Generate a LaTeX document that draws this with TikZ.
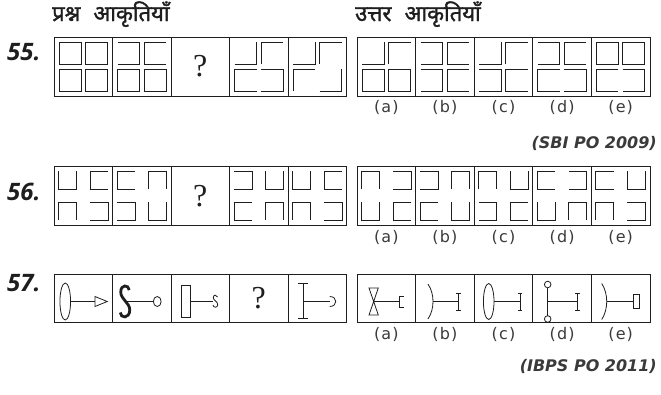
\documentclass[tikz,border=0pt]{standalone}
\usepackage{fontspec}
\usepackage{tikz}
\usetikzlibrary{positioning}
\newfontfamily\hindifont[Script=Devanagari, FakeBold=1.6]{Noto Sans}
\newfontfamily\numfont{Open Sans}
\newfontfamily\srcfont{DejaVu Sans}
\newfontfamily\labfont[LetterSpace=7]{DejaVu Sans}
\newfontfamily\qfont{Liberation Serif}
\definecolor{ink}{HTML}{1E1E1E}
\definecolor{note}{HTML}{3A3A3A}
\newcommand{\tiles}[5]{%
  \pic at ([shift={(-\tdx,-\tdy)}]#1.center) {#2};
  \pic at ([shift={(\tdx,-\tdy)}]#1.center) {#3};
  \pic at ([shift={(-\tdx,\tdy)}]#1.center) {#4};
  \pic at ([shift={(\tdx,\tdy)}]#1.center) {#5};}

\begin{document}
\begin{tikzpicture}[x=1pt, y=-1pt,
  cell/.style={draw=ink, line width=1pt, minimum width=58.5pt, inner sep=0pt, outer sep=0pt},
  acell/.style={cell, minimum width=58.6pt},
  c55/.style={minimum height=59pt},
  c56/.style={minimum height=58.5pt},
  c57/.style={minimum height=48pt},
  tile/.style={draw=ink, line width=1pt},
  sym/.style={draw=ink, line width=0.8pt},
  qmark/.style={font=\qfont\fontsize{32}{32}\selectfont, text=ink},
  qnum/.style={font=\numfont\bfseries\itshape\fontsize{24}{24}\selectfont, text=ink, inner sep=0pt, anchor=base west},
  head/.style={font=\hindifont\fontsize{22}{22}\selectfont, text=ink, inner sep=0pt, anchor=base west},
  src/.style={font=\srcfont\bfseries\itshape\fontsize{16}{16}\selectfont, text=note, inner sep=0pt, anchor=base east},
  lab/.style={font=\labfont\fontsize{16}{16}\selectfont, text=note, inner sep=0pt},
  pics/box/.style={code={\draw[tile] (-\thw,-\thh) rectangle (\thw,\thh);}},
  pics/opl/.style={code={\draw[tile] (-\thw,-\thh) -- (\thw,-\thh) -- (\thw,\thh) -- (-\thw,\thh);}},
  pics/opr/.style={code={\draw[tile] (\thw,-\thh) -- (-\thw,-\thh) -- (-\thw,\thh) -- (\thw,\thh);}},
  pics/opt/.style={code={\draw[tile] (-\thw,-\thh) -- (-\thw,\thh) -- (\thw,\thh) -- (\thw,-\thh);}},
  pics/opb/.style={code={\draw[tile] (-\thw,\thh) -- (-\thw,-\thh) -- (\thw,-\thh) -- (\thw,\thh);}},
  pics/cbr/.style={code={\draw[tile] (-\thw,\thh) -- (\thw,\thh) -- (\thw,-\thh);}},
  pics/ctl/.style={code={\draw[tile] (-\thw,\thh) -- (-\thw,-\thh) -- (\thw,-\thh);}}
]
  \useasboundingbox (0,0) rectangle (661,394);
  \node[head] (h1) at (52,21) {प्रश्न\hspace{0.6em}आकृतियाँ};
  \node[head] (h2) at (355,21) {उत्तर\hspace{0.6em}आकृतियाँ};

  \node[qnum] (n55) at (7,60) {55.};
  \node[cell, c55] (p55a) at (83.25,66.5) {};
  \node[cell, c55, right=0pt of p55a] (p55b) {};
  \node[cell, c55, right=0pt of p55b, qmark] (p55c) {?};
  \node[cell, c55, right=0pt of p55c] (p55d) {};
  \node[cell, c55, right=0pt of p55d] (p55e) {};
  \node[acell, c55] (a55a) at (386.3,66.5) {};
  \node[acell, c55, right=0pt of a55a] (a55b) {};
  \node[acell, c55, right=0pt of a55b] (a55c) {};
  \node[acell, c55, right=0pt of a55c] (a55d) {};
  \node[acell, c55, right=0pt of a55d] (a55e) {};
  \node[lab, below=4.5pt of a55a] (l55a) {(a)};
  \node[lab, below=4.5pt of a55b] (l55b) {(b)};
  \node[lab, below=4.5pt of a55c] (l55c) {(c)};
  \node[lab, below=4.5pt of a55d] (l55d) {(d)};
  \node[lab, below=4.5pt of a55e] (l55e) {(e)};
  \def\thw{11}\def\thh{11}\def\tdx{13.25}\def\tdy{13.5}
  \tiles{p55a}{box}{box}{box}{box}
  \tiles{p55b}{opl}{opr}{box}{box}
  \tiles{p55d}{cbr}{ctl}{opr}{opl}
  \tiles{p55e}{cbr}{ctl}{ctl}{cbr}
  \tiles{a55a}{cbr}{ctl}{box}{box}
  \tiles{a55b}{opl}{opr}{opl}{opr}
  \tiles{a55c}{cbr}{ctl}{opl}{opr}
  \tiles{a55d}{opl}{opr}{opr}{opl}
  \tiles{a55e}{box}{box}{opr}{opl}
  \node[src] (s55) at (657,148) {(SBI PO 2009)};

  \node[qnum] (n56) at (7,200) {56.};
  \node[cell, c56] (p56a) at (83.25,195.75) {};
  \node[cell, c56, right=0pt of p56a] (p56b) {};
  \node[cell, c56, right=0pt of p56b, qmark] (p56c) {?};
  \node[cell, c56, right=0pt of p56c] (p56d) {};
  \node[cell, c56, right=0pt of p56d] (p56e) {};
  \node[acell, c56] (a56a) at (386.3,195.75) {};
  \node[acell, c56, right=0pt of a56a] (a56b) {};
  \node[acell, c56, right=0pt of a56b] (a56c) {};
  \node[acell, c56, right=0pt of a56c] (a56d) {};
  \node[acell, c56, right=0pt of a56d] (a56e) {};
  \node[lab, below=5pt of a56a] (l56a) {(a)};
  \node[lab, below=5pt of a56b] (l56b) {(b)};
  \node[lab, below=5pt of a56c] (l56c) {(c)};
  \node[lab, below=5pt of a56d] (l56d) {(d)};
  \node[lab, below=5pt of a56e] (l56e) {(e)};
  \def\thw{9}\def\thh{9}\def\tdx{15.75}\def\tdy{15.5}
  \tiles{p56a}{opt}{opr}{opb}{opl}
  \tiles{p56b}{opr}{opb}{opl}{opt}
  \tiles{p56d}{opl}{opt}{opr}{opb}
  \tiles{p56e}{opt}{opr}{opb}{opl}
  \tiles{a56a}{opb}{opl}{opt}{opr}
  \tiles{a56b}{opl}{opb}{opr}{opt}
  \tiles{a56c}{opb}{opt}{opl}{opr}
  \tiles{a56d}{opr}{opl}{opt}{opb}
  \tiles{a56e}{opr}{opt}{opb}{opl}

  \node[qnum] (n57) at (7,291.5) {57.};
  \node[cell, c57] (p57a) at (83.25,298) {};
  \node[cell, c57, right=0pt of p57a] (p57b) {};
  \node[cell, c57, right=0pt of p57b] (p57c) {};
  \node[cell, c57, right=0pt of p57c, qmark] (p57d) {?};
  \node[cell, c57, right=0pt of p57d] (p57e) {};
  \node[acell, c57] (a57a) at (386.3,298) {};
  \node[acell, c57, right=0pt of a57a] (a57b) {};
  \node[acell, c57, right=0pt of a57b] (a57c) {};
  \node[acell, c57, right=0pt of a57c] (a57d) {};
  \node[acell, c57, right=0pt of a57d] (a57e) {};
  \node[lab, below=5.5pt of a57a] (l57a) {(a)};
  \node[lab, below=5.5pt of a57b] (l57b) {(b)};
  \node[lab, below=5.5pt of a57c] (l57c) {(c)};
  \node[lab, below=5.5pt of a57d] (l57d) {(d)};
  \node[lab, below=5.5pt of a57e] (l57e) {(e)};
  \begin{scope}[shift={(p57a.center)}, yshift=-3.5pt]
    \draw[sym] (-18,0) ellipse [x radius=5.3, y radius=18.5];
    \draw[sym] (-12.7,0) -- (11.75,0);
    \draw[sym] (11.75,-5) -- (24,0) -- (11.75,5) -- cycle;
  \end{scope}
  \begin{scope}[shift={(p57b.center)}, yshift=-3.5pt]
    \draw[sym, line width=2.8pt] (-12.5,-11.5) .. controls (-13,-17) and (-21,-17.5) .. (-21,-9.5) .. controls (-21,-2) and (-12,1) .. (-12,8.5) .. controls (-12,17.5) and (-21.5,17) .. (-21.5,11);
    \draw[sym] (-16.75,0) -- (11.6,0);
    \draw[sym] (15.5,0) ellipse [x radius=3.9, y radius=5];
  \end{scope}
  \begin{scope}[shift={(p57c.center)}, yshift=-3.5pt]
    \draw[sym] (-18.5,-16) rectangle (-10.25,16);
    \draw[sym] (-10.25,0) -- (13,0);
    \draw[sym] (17.3,-4.5) .. controls (16.8,-7) and (13,-7) .. (13,-4) .. controls (13,-1) and (17.5,0) .. (17.5,3) .. controls (17.5,6.5) and (13,6.5) .. (12.8,3.5);
  \end{scope}
  \begin{scope}[shift={(p57e.center)}, yshift=-3.5pt]
    \draw[sym] (-14,-18) -- (-14,17) (-19,-18) -- (-9,-18) (-19,17) -- (-9,17);
    \draw[sym] (-14,0) -- (12.5,0);
    \draw[sym] (12.5,-5) .. controls (20.5,-5) and (20.5,5) .. (12.5,5);
  \end{scope}
  \begin{scope}[shift={(a57a.center)}, yshift=-3.5pt]
    \draw[sym] (-17.3,-13.5) -- (-8,-13.5) -- (-17.3,13.5) -- (-8,13.5) -- cycle;
    \draw[sym] (-12.65,0) -- (13,0);
    \draw[sym] (17.5,-5.5) -- (13,-5.5) -- (13,6) -- (17.5,6);
  \end{scope}
  \begin{scope}[shift={(a57b.center)}, yshift=-3.5pt]
    \draw[sym] (-17,-17.5) .. controls (-10.2,-8) and (-10.2,8) .. (-17,17.5);
    \draw[sym] (-11.9,0) -- (13.4,0);
    \draw[sym] (13.4,-8.5) -- (13.4,8.5) (11,-8.5) -- (15.8,-8.5) (11,8.5) -- (15.8,8.5);
  \end{scope}
  \begin{scope}[shift={(a57c.center)}, yshift=-3.5pt]
    \draw[sym] (-14.8,0) ellipse [x radius=5.3, y radius=18];
    \draw[sym] (-9.5,0) -- (16.5,0);
    \draw[sym] (16.5,-8.5) -- (16.5,8.5) (14.1,-8.5) -- (18.9,-8.5) (14.1,8.5) -- (18.9,8.5);
  \end{scope}
  \begin{scope}[shift={(a57d.center)}, yshift=-3.5pt]
    \draw[sym] (-14.4,-17) circle [radius=3.3] (-14.4,17.5) circle [radius=3.3];
    \draw[sym] (-14.4,-13.7) -- (-14.4,14.2);
    \draw[sym] (-14.4,0) -- (15.6,0);
    \draw[sym] (15.6,-8.5) -- (15.6,8.5) (13.2,-8.5) -- (18,-8.5) (13.2,8.5) -- (18,8.5);
  \end{scope}
  \begin{scope}[shift={(a57e.center)}, yshift=-3.5pt]
    \draw[sym] (-19,-18) .. controls (-12.3,-8) and (-12.3,8) .. (-19,18);
    \draw[sym] (-14,0) -- (12.6,0);
    \draw[sym] (12.6,-7) rectangle (18.6,7);
  \end{scope}
  \node[src] (s57) at (657,371) {(IBPS PO 2011)};
\end{tikzpicture}
\end{document}
